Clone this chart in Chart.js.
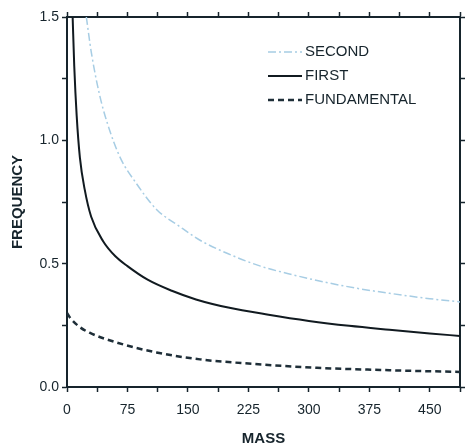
<!DOCTYPE html>
<html>
<head>
<meta charset="utf-8">
<script src="https://cdn.jsdelivr.net/npm/chart.js@4/dist/chart.umd.min.js"></script>
<style>
  html, body { margin: 0; padding: 0; background: #fff; }
  #wrap { width: 470px; height: 448px; }
</style>
</head>
<body>
<div id="wrap"><canvas id="freqChart" width="470" height="448"></canvas></div>
<script>
// ── Data ──
var secondMass = [24, 30, 40, 50, 66, 85, 111, 140, 165, 200, 240, 280, 320, 360, 400, 450, 487.5];
var secondFreq = [1.50, 1.36, 1.19, 1.07, 0.93, 0.83, 0.72, 0.65, 0.595, 0.54, 0.49, 0.455, 0.425, 0.40, 0.38, 0.358, 0.345];

var firstMass = [7, 9, 12, 16, 22, 30, 45, 60, 75, 100, 130, 160, 200, 250, 300, 350, 400, 450, 487.5];
var firstFreq = [1.50, 1.30, 1.10, 0.93, 0.80, 0.69, 0.59, 0.53, 0.49, 0.435, 0.39, 0.355, 0.322, 0.293, 0.268, 0.248, 0.232, 0.217, 0.207];

var fundMass = [0, 4, 15, 28, 62, 111, 165, 225, 310, 400, 487.5];
var fundFreq = [0.30, 0.28, 0.245, 0.22, 0.18, 0.14, 0.112, 0.095, 0.078, 0.068, 0.061];

var seriesLabels = ["SECOND", "FIRST", "FUNDAMENTAL"];
var xTickLabels = [0, 75, 150, 225, 300, 375, 450];
var yTickLabels = [0.0, 0.5, 1.0, 1.5];

var INK = "#16242c";
var FONT = "'Liberation Sans', Arial, sans-serif";

function toPoints(xs, ys) {
    return xs.map(function (x, i) { return { x: x, y: ys[i] }; });
}

// legend drawn inside the plot, top right
var insideLegend = {
    id: "insideLegend",
    afterDatasetsDraw: function (chart) {
        var ctx = chart.ctx;
        var rows = [52, 76, 100];
        ctx.save();
        chart.data.datasets.forEach(function (ds, i) {
            var y = rows[i];
            ctx.beginPath();
            ctx.strokeStyle = ds.borderColor;
            ctx.lineWidth = ds.borderWidth;
            ctx.setLineDash(ds.borderDash || []);
            ctx.moveTo(268, y);
            ctx.lineTo(302, y);
            ctx.stroke();
            ctx.setLineDash([]);
            ctx.fillStyle = INK;
            ctx.font = "15px " + FONT;
            ctx.textBaseline = "middle";
            ctx.textAlign = "left";
            ctx.fillText(ds.label, 305, y);
        });
        ctx.restore();
    }
};

function fixSize(prop, val) {
    return function (scale) { scale[prop] = val; };
}

var tickGrid = {
    drawOnChartArea: false,
    drawTicks: true,
    tickLength: 5,
    tickWidth: 1.5,
    tickColor: INK
};
var axisBorder = { display: true, color: INK, width: 2 };

new Chart(document.getElementById("freqChart"), {
    type: "line",
    data: {
        datasets: [
            {
                label: seriesLabels[0],
                data: toPoints(secondMass, secondFreq),
                borderColor: "#a7cde4",
                borderWidth: 1.5,
                borderDash: [8, 3, 2, 3],
                pointRadius: 0,
                cubicInterpolationMode: "monotone",
                fill: false
            },
            {
                label: seriesLabels[1],
                data: toPoints(firstMass, firstFreq),
                borderColor: "#111a20",
                borderWidth: 2,
                pointRadius: 0,
                cubicInterpolationMode: "monotone",
                fill: false
            },
            {
                label: seriesLabels[2],
                data: toPoints(fundMass, fundFreq),
                borderColor: "#1e2e38",
                borderWidth: 2.5,
                borderDash: [6, 4],
                pointRadius: 0,
                cubicInterpolationMode: "monotone",
                fill: false
            }
        ]
    },
    options: {
        responsive: false,
        animation: false,
        layout: { padding: 0 },
        plugins: {
            legend: { display: false },
            tooltip: { enabled: false }
        },
        scales: {
            x: {
                type: "linear",
                position: "bottom",
                min: 0,
                max: 487.5,
                afterFit: fixSize("height", 61),
                border: axisBorder,
                grid: tickGrid,
                ticks: {
                    stepSize: 37.5,
                    maxTicksLimit: 30,
                    autoSkip: false,
                    maxRotation: 0,
                    padding: 10,
                    color: INK,
                    font: { family: FONT, size: 14 },
                    callback: function (v) {
                        return xTickLabels.indexOf(v) >= 0 ? String(v) : "";
                    }
                },
                title: {
                    display: true,
                    text: "MASS",
                    color: INK,
                    padding: 0,
                    font: { family: FONT, size: 15, weight: "bold" }
                }
            },
            x2: {
                type: "linear",
                position: "top",
                min: 0,
                max: 487.5,
                afterFit: fixSize("height", 17),
                border: axisBorder,
                grid: tickGrid,
                ticks: { display: false, stepSize: 37.5, maxTicksLimit: 30 }
            },
            y: {
                type: "linear",
                position: "left",
                min: 0,
                max: 1.5,
                afterFit: fixSize("width", 67),
                border: axisBorder,
                grid: tickGrid,
                ticks: {
                    stepSize: 0.25,
                    autoSkip: false,
                    padding: 3,
                    color: INK,
                    font: { family: FONT, size: 14 },
                    callback: function (v) {
                        return yTickLabels.indexOf(v) >= 0 ? v.toFixed(1) : "";
                    }
                },
                title: {
                    display: true,
                    text: "FREQUENCY",
                    color: INK,
                    padding: { top: 9, bottom: 0 },
                    font: { family: FONT, size: 15, weight: "bold" }
                }
            },
            y2: {
                type: "linear",
                position: "right",
                min: 0,
                max: 1.5,
                afterFit: fixSize("width", 9),
                border: axisBorder,
                grid: tickGrid,
                ticks: { display: false, stepSize: 0.25 }
            }
        }
    },
    plugins: [insideLegend]
});
</script>
</body>
</html>
